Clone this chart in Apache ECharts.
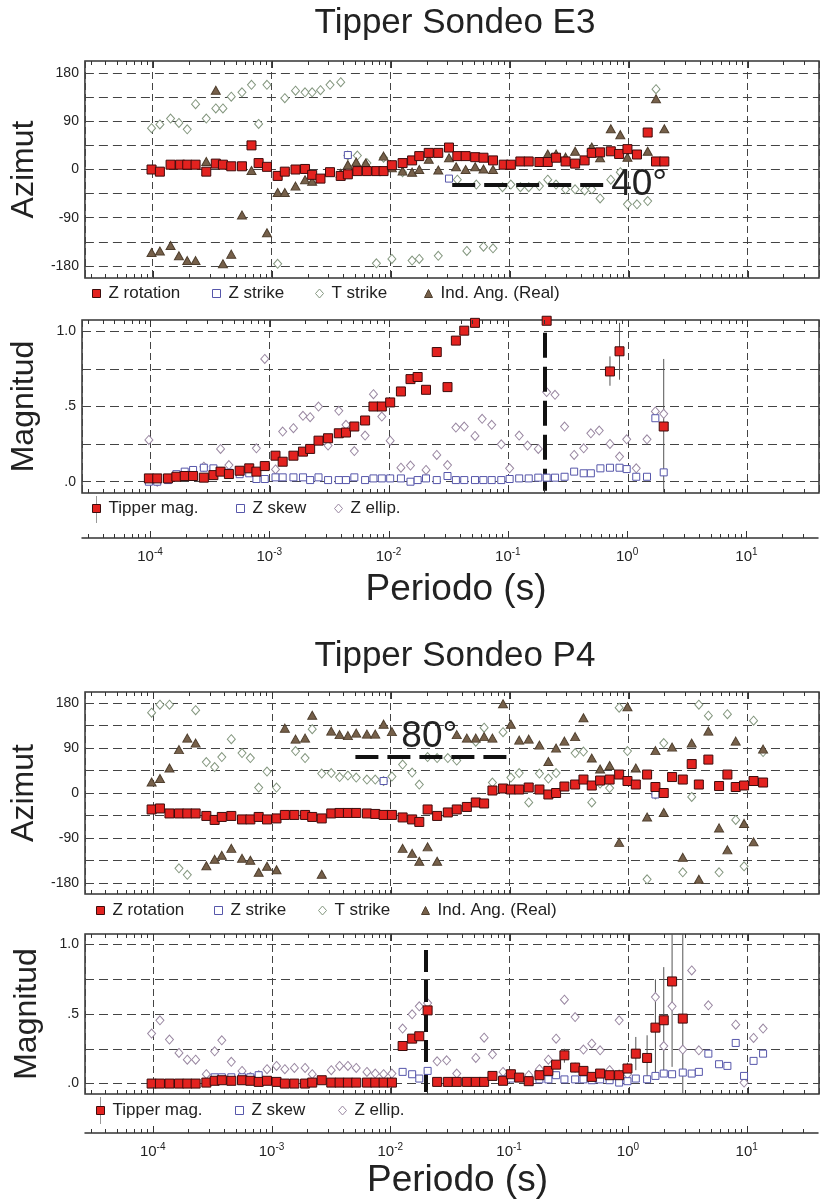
<!DOCTYPE html>
<html><head><meta charset="utf-8">
<script src="https://cdn.jsdelivr.net/npm/echarts@6/dist/echarts.min.js"></script>
<style>html,body{margin:0;padding:0;background:#fff}#c{width:821px;height:1201px}</style>
</head><body><div id="c"></div>
<script>
// ---------- DATA (x = log10 of period in s) ----------
// E3 – Azimut panel
const e3ZRotation = [[-4.01,0],[-3.94,-4],[-3.85,9],[-3.77,9],[-3.71,9],[-3.64,9],[-3.55,-4],[-3.47,11],[-3.41,9],[-3.34,6],[-3.25,6],[-3.17,45],[-3.11,12],[-3.04,5],[-2.95,-12],[-2.89,-4],[-2.80,0],[-2.72,1],[-2.66,-10],[-2.59,-17],[-2.51,-5],[-2.42,-12],[-2.36,-9],[-2.28,-3],[-2.20,-3],[-2.12,-3],[-2.06,-3],[-1.99,8],[-1.90,12],[-1.82,17],[-1.76,25],[-1.68,31],[-1.60,31],[-1.51,41],[-1.44,25],[-1.37,25],[-1.29,23],[-1.22,22],[-1.14,17],[-1.05,9],[-0.99,9],[-0.91,15],[-0.84,15],[-0.75,14],[-0.68,14],[-0.61,22],[-0.53,15],[-0.45,11],[-0.37,17],[-0.31,31],[-0.24,32],[-0.15,34],[-0.08,29],[-0.01,38],[0.07,28],[0.16,69],[0.23,15],[0.30,15]];
const e3ZStrike = [[-2.36,27],[-1.51,-17]];
const e3TStrike = [[-4.01,77],[-3.94,84],[-3.85,95],[-3.78,87],[-3.71,75],[-3.64,122],[-3.55,95],[-3.47,114],[-3.41,114],[-3.34,136],[-3.25,144],[-3.17,158],[-3.11,85],[-3.04,158],[-2.95,-176],[-2.89,133],[-2.80,147],[-2.72,144],[-2.66,144],[-2.59,148],[-2.51,158],[-2.42,163],[-2.36,26],[-2.28,26],[-2.20,12],[-2.12,-175],[-2.06,22],[-1.99,-167],[-1.90,-5],[-1.82,-170],[-1.76,-167],[-1.60,-161],[-1.44,-19],[-1.36,-152],[-1.28,-28],[-1.22,-144],[-1.14,-147],[-1.06,-33],[-0.99,-28],[-0.91,-33],[-0.84,-33],[-0.75,-31],[-0.68,-19],[-0.61,-28],[-0.53,-37],[-0.45,-37],[-0.37,-39],[-0.31,-37],[-0.24,-54],[-0.15,-19],[-0.07,-5],[-0.01,-65],[0.07,-65],[0.16,-59],[0.23,150]];
const e3IndAng = [[-4.01,-155],[-3.94,-152],[-3.85,-142],[-3.78,-161],[-3.71,-170],[-3.64,-170],[-3.55,15],[-3.47,148],[-3.41,-176],[-3.34,-158],[-3.25,-85],[-3.17,-2],[-3.04,-118],[-2.95,-43],[-2.89,-43],[-2.80,-31],[-2.72,-19],[-2.66,-22],[-2.42,-7],[-2.36,9],[-2.29,14],[-2.21,12],[-2.06,25],[-1.99,3],[-1.90,-3],[-1.82,-5],[-1.76,0],[-1.68,19],[-1.60,-1],[-1.51,22],[-1.45,5],[-1.37,0],[-1.29,5],[-1.22,1],[-1.14,0],[-0.68,29],[-0.61,29],[-0.53,23],[-0.45,34],[-0.31,42],[-0.24,22],[-0.15,76],[-0.07,65],[-0.01,23],[0.16,34],[0.23,132],[0.30,76]];
// E3 – Magnitud panel
const e3TipperMag = [[-4.01,0.022],[-3.94,0.022],[-3.85,0.022],[-3.78,0.033],[-3.71,0.038],[-3.64,0.038],[-3.55,0.027],[-3.47,0.044],[-3.41,0.067],[-3.34,0.051],[-3.25,0.073],[-3.17,0.089],[-3.11,0.067],[-3.04,0.104],[-2.95,0.173],[-2.89,0.133],[-2.80,0.173],[-2.72,0.2],[-2.66,0.218],[-2.59,0.273],[-2.51,0.289],[-2.42,0.322],[-2.36,0.327],[-2.29,0.367],[-2.20,0.407],[-2.13,0.5],[-2.06,0.5],[-1.99,0.527],[-1.90,0.6],[-1.82,0.682],[-1.76,0.696],[-1.69,0.611],[-1.60,0.862],[-1.51,0.629],[-1.44,0.938],[-1.37,1.004],[-1.28,1.056],[-0.68,1.07],[-0.15,0.733],[-0.07,0.867],[0.30,0.367]];
const e3TipperErr = [[-0.15,0.638,0.833],[-0.07,0.678,1.056],[0.30,-0.07,0.816]];
const e3ZSkew = [[-4.01,0.0],[-3.94,0.0],[-3.85,0.011],[-3.78,0.05],[-3.71,0.067],[-3.64,0.078],[-3.55,0.093],[-3.47,0.089],[-3.41,0.07],[-3.34,0.06],[-3.25,0.05],[-3.17,0.056],[-3.11,0.018],[-3.04,0.018],[-2.95,0.029],[-2.89,0.029],[-2.80,0.029],[-2.72,0.029],[-2.66,0.011],[-2.59,0.029],[-2.51,0.011],[-2.42,0.011],[-2.36,0.011],[-2.29,0.029],[-2.20,0.011],[-2.13,0.022],[-2.06,0.022],[-1.99,0.022],[-1.90,0.022],[-1.82,0.0],[-1.76,0.011],[-1.69,0.022],[-1.60,0.011],[-1.51,0.038],[-1.44,0.011],[-1.37,0.011],[-1.28,0.011],[-1.21,0.011],[-1.14,0.011],[-1.06,0.011],[-0.99,0.018],[-0.91,0.022],[-0.83,0.022],[-0.75,0.027],[-0.68,0.027],[-0.61,0.027],[-0.53,0.033],[-0.45,0.067],[-0.37,0.056],[-0.31,0.056],[-0.23,0.089],[-0.15,0.093],[-0.07,0.093],[-0.01,0.084],[0.07,0.033],[0.16,0.033],[0.23,0.422],[0.30,0.062]];
const e3ZEllip = [[-4.01,0.278],[-3.94,0.0],[-3.55,0.1],[-3.41,0.218],[-3.34,0.111],[-3.11,0.222],[-3.04,0.816],[-2.95,0.082],[-2.89,0.333],[-2.80,0.356],[-2.72,0.438],[-2.66,0.429],[-2.59,0.5],[-2.51,0.24],[-2.42,0.471],[-2.36,0.378],[-2.29,0.204],[-2.20,0.307],[-2.13,0.582],[-2.06,0.433],[-1.99,0.273],[-1.90,0.093],[-1.82,0.107],[-1.69,0.078],[-1.60,0.178],[-1.51,0.111],[-1.44,0.36],[-1.37,0.367],[-1.28,0.304],[-1.22,0.418],[-1.14,0.378],[-1.06,0.249],[-0.99,0.089],[-0.91,0.307],[-0.84,0.24],[-0.75,0.218],[-0.68,0.596],[-0.61,0.578],[-0.53,0.367],[-0.45,0.178],[-0.37,0.222],[-0.31,0.322],[-0.24,0.34],[-0.15,0.251],[-0.07,0.167],[-0.01,0.282],[0.07,0.089],[0.16,0.282],[0.23,0.467],[0.30,0.451]];
// P4 – Azimut panel
const p4ZRotation = [[-4.01,-33],[-3.94,-31],[-3.86,-41],[-3.78,-41],[-3.71,-41],[-3.64,-41],[-3.55,-46],[-3.48,-54],[-3.42,-48],[-3.34,-46],[-3.25,-53],[-3.18,-53],[-3.11,-48],[-3.04,-53],[-2.96,-51],[-2.89,-44],[-2.81,-44],[-2.72,-44],[-2.66,-48],[-2.58,-51],[-2.50,-41],[-2.43,-40],[-2.36,-40],[-2.29,-40],[-2.20,-41],[-2.13,-42],[-2.06,-44],[-1.99,-44],[-1.90,-49],[-1.82,-53],[-1.76,-58],[-1.69,-33],[-1.61,-46],[-1.52,-39],[-1.445,-33],[-1.36,-28],[-1.285,-19],[-1.215,-21],[-1.145,5],[-1.056,9],[-0.99,7],[-0.92,7],[-0.84,11],[-0.75,7],[-0.675,-3],[-0.61,0],[-0.54,13],[-0.45,17],[-0.38,27],[-0.31,15],[-0.24,25],[-0.16,27],[-0.08,37],[-0.01,24],[0.06,17],[0.155,37],[0.225,12],[0.295,0],[0.365,32],[0.455,27],[0.53,58],[0.59,17],[0.67,67],[0.76,14],[0.83,37],[0.90,12],[0.97,15],[1.05,24],[1.13,21]];
const p4ZStrike = [[-2.06,24],[0.225,-3]];
const p4TStrike = [[-4.01,161],[-3.94,177],[-3.86,177],[-3.78,-151],[-3.71,-164],[-3.64,166],[-3.55,62],[-3.48,52],[-3.42,72],[-3.34,108],[-3.25,80],[-3.18,70],[-3.11,11],[-3.04,43],[-2.96,11],[-2.80,84],[-2.72,70],[-2.66,128],[-2.58,39],[-2.50,40],[-2.43,32],[-2.36,35],[-2.29,31],[-2.20,27],[-2.13,27],[-2.06,24],[-1.99,33],[-1.90,57],[-1.82,41],[-1.76,17],[-1.69,72],[-1.61,70],[-1.52,70],[-1.445,65],[-1.285,103],[-1.215,131],[-1.145,21],[-1.056,122],[-0.99,31],[-0.92,40],[-0.84,-19],[-0.75,39],[-0.675,29],[-0.61,40],[-0.45,80],[-0.38,83],[-0.31,-19],[-0.24,19],[-0.16,10],[-0.08,171],[-0.01,84],[0.155,-173],[0.225,-3],[0.295,100],[0.455,-159],[0.53,-8],[0.59,177],[0.67,155],[0.76,-159],[0.83,158],[0.90,-54],[0.97,-147],[1.05,145],[1.13,82]];
const p4IndAng = [[-4.01,22],[-3.94,29],[-3.86,50],[-3.78,87],[-3.71,110],[-3.64,100],[-3.55,-146],[-3.48,-133],[-3.42,-125],[-3.34,-111],[-3.25,-131],[-3.18,-135],[-3.11,-159],[-3.04,-147],[-2.96,-154],[-2.89,130],[-2.80,108],[-2.72,110],[-2.66,156],[-2.58,-163],[-2.50,124],[-2.43,117],[-2.36,115],[-2.29,120],[-2.20,118],[-2.13,118],[-2.06,138],[-1.99,123],[-1.90,-111],[-1.82,-121],[-1.76,-137],[-1.69,-108],[-1.61,-137],[-1.445,117],[-1.36,110],[-1.285,110],[-1.215,113],[-1.145,110],[-1.056,179],[-0.99,138],[-0.92,106],[-0.84,108],[-0.75,96],[-0.675,63],[-0.61,90],[-0.54,104],[-0.45,113],[-0.38,151],[-0.31,70],[-0.24,48],[-0.16,55],[-0.08,-99],[-0.01,173],[0.06,50],[0.155,-48],[0.225,85],[0.295,-39],[0.365,92],[0.455,-129],[0.53,100],[0.59,-173],[0.67,124],[0.76,-70],[0.83,-114],[0.90,104],[0.97,-61],[1.05,-98],[1.13,88]];
// P4 – Magnitud panel
const p4TipperMag = [[-4.01,0],[-3.94,0],[-3.86,0],[-3.78,0],[-3.71,0],[-3.64,0],[-3.55,0.007],[-3.48,0.02],[-3.42,0.024],[-3.34,0.02],[-3.25,0.024],[-3.18,0.02],[-3.11,0.012],[-3.04,0.02],[-2.96,0.012],[-2.89,0],[-2.81,0],[-2.72,0],[-2.66,0.007],[-2.58,0.024],[-2.50,0.007],[-2.43,0.007],[-2.36,0.007],[-2.29,0.007],[-2.20,0.007],[-2.13,0.007],[-2.06,0.007],[-1.99,0.007],[-1.90,0.27],[-1.82,0.323],[-1.76,0.34],[-1.69,0.526],[-1.61,0.012],[-1.52,0.012],[-1.445,0.012],[-1.36,0.012],[-1.285,0.012],[-1.215,0.012],[-1.145,0.055],[-1.056,0.02],[-0.99,0.067],[-0.92,0.043],[-0.84,0.017],[-0.75,0.06],[-0.675,0.091],[-0.61,0.136],[-0.54,0.203],[-0.45,0.115],[-0.38,0.091],[-0.31,0.048],[-0.24,0.072],[-0.16,0.06],[-0.08,0.06],[-0.01,0.108],[0.06,0.215],[0.155,0.184],[0.225,0.402],[0.295,0.455],[0.365,0.734],[0.455,0.467]];
const p4TipperErr = [[-0.54,0.15,0.25],[-0.45,0.08,0.15],[-0.08,0.02,0.1],[-0.01,0.07,0.15],[0.06,0.096,0.335],[0.155,0.024,0.347],[0.225,0.048,0.749],[0.295,0.072,0.837],[0.365,0.12,1.075],[0.455,-0.07,1.075]];
const p4ZSkew = [[-3.48,0.045],[-3.42,0.045],[-3.34,0.045],[-3.25,0.045],[-3.18,0.045],[-3.11,0.06],[-1.90,0.084],[-1.82,0.067],[-1.76,0.036],[-1.69,0.091],[-1.056,0.03],[-0.99,0.036],[-0.84,0.024],[-0.75,0.03],[-0.675,0.03],[-0.61,0.06],[-0.54,0.03],[-0.45,0.03],[-0.38,0.03],[-0.31,0.024],[-0.24,0.03],[-0.16,0.024],[-0.08,0.007],[-0.01,0.017],[0.06,0.036],[0.155,0.031],[0.225,0.055],[0.295,0.072],[0.365,0.067],[0.455,0.079],[0.53,0.072],[0.59,0.084],[0.67,0.215],[0.76,0.139],[0.83,0.127],[0.90,0.292],[0.97,0.055],[1.05,0.163],[1.13,0.215]];
const p4ZEllip = [[-4.01,0.359],[-3.94,0.455],[-3.86,0.316],[-3.78,0.22],[-3.71,0.172],[-3.64,0.172],[-3.55,0.067],[-3.48,0.232],[-3.42,0.311],[-3.34,0.156],[-3.25,0.091],[-3.18,0.048],[-3.11,0.06],[-3.04,0.103],[-2.96,0.127],[-2.89,0.103],[-2.81,0.112],[-2.72,0.112],[-2.66,0.067],[-2.50,0.096],[-2.43,0.127],[-2.36,0.127],[-2.29,0.112],[-2.20,0.084],[-2.13,0.072],[-2.06,0.067],[-1.99,0.072],[-1.90,0.395],[-1.82,0.498],[-1.76,0.555],[-1.69,0.579],[-1.61,0.16],[-1.53,0.167],[-1.445,0.072],[-1.285,0.184],[-1.215,0.33],[-1.145,0.21],[-1.056,0.084],[-0.84,0.06],[-0.75,0.103],[-0.675,0.172],[-0.61,0.323],[-0.54,0.603],[-0.45,0.478],[-0.38,0.244],[-0.31,0.287],[-0.24,0.239],[-0.16,0.096],[-0.08,0.455],[-0.01,0.067],[0.225,0.622],[0.295,0.27],[0.365,0.555],[0.455,0.244],[0.53,0.813],[0.59,0.239],[0.67,0.562],[0.90,0.423],[0.97,0.007],[1.05,0.328],[1.13,0.395]];
// annotations (log10 T, value)
const e3StrikeLine = [[-1.483,-28],[-0.197,-28]];
const e3MagLine = [[-0.692,0.99],[-0.692,-0.06]];
const p4StrikeLine = [[-2.297,72.5],[-1.0,72.5]];
const p4StrikeLabel = [-1.676,112];
const p4MagLine = [[-1.703,0.96],[-1.703,-0.075]];
// tick values / labels
const azGridValues = [-180,-135,-90,-45,0,45,90,135,180];
const azLabelValues = [-180,-90,0,90,180];
const magGridValues = [0,0.25,0.5,0.75,1];
const magLabelValues = [0,0.5,1];
const xExtentExp = [-4.57, 1.6];

// ---------- CHART ----------
const FONT = "'Liberation Sans', Arial, sans-serif";
const xMin = Math.pow(10, xExtentExp[0]), xMax = Math.pow(10, xExtentExp[1]);
const toXY = a => a.map(p => [Math.pow(10, p[0]), p[1]]);

const GRIDS = [
  {left:82, top:61, width:737, height:217},
  {left:82, top:320, width:737, height:173},
  {left:82, top:528, width:737, height:10},
  {left:85, top:692, width:734, height:202},
  {left:85, top:934, width:734, height:160},
  {left:85, top:1123, width:734, height:10}
];
const ST = {
  zrot:   {symbol:'rect', size:9, fill:'#e3221f', stroke:'#3d0c0c', z:6},
  zstr:   {symbol:'rect', size:7, fill:'#ffffff', stroke:'#5656aa', z:5},
  tstr:   {symbol:'diamond', size:[8,9], fill:'#ffffff', stroke:'#84977f', z:3},
  ind:    {symbol:'triangle', size:[9,8], fill:'#76604a', stroke:'#4f3f2e', z:4},
  ellip:  {symbol:'diamond', size:[8,9], fill:'#ffffff', stroke:'#9a88a2', z:3}
};
function scatter(name, gi, data, st, extra) {
  return Object.assign({type:'scatter', name, xAxisIndex:gi, yAxisIndex:gi, data:toXY(data),
    symbol:st.symbol, symbolSize:st.size, z:st.z, animation:false, silent:true,
    itemStyle:{color:st.fill, borderColor:st.stroke, borderWidth:1, opacity:1}}, extra||{});
}
// axis tick marks (major at decades, minor 2..9)
const tickData = [];
for (let d = -5; d <= 1; d++) for (let m = 1; m <= 9; m++) {
  const e = Math.log10(m * Math.pow(10, d));
  if (e > xExtentExp[0] + 0.002 && e < xExtentExp[1] - 0.002) tickData.push([m * Math.pow(10, d), 0, m === 1 ? 1 : 0]);
}
function tickSeries(gi, both) {
  return {type:'custom', xAxisIndex:gi, yAxisIndex:gi, data:tickData, silent:true, z:7, animation:false,
    renderItem(params, api) {
      const cs = params.coordSys;
      const x = Math.round(api.coord([api.value(0), 0])[0]) + 0.5;
      const len = api.value(2) ? 7 : 4;
      const b = cs.y + cs.height;
      const ch = [{type:'line', shape:{x1:x, y1:b, x2:x, y2:b - len}, style:{stroke:'#333', lineWidth:1}}];
      if (both) ch.push({type:'line', shape:{x1:x, y1:cs.y, x2:x, y2:cs.y + len}, style:{stroke:'#333', lineWidth:1}});
      return {type:'group', children:ch};
    }};
}
function errSeries(gi, data) {
  return {type:'custom', xAxisIndex:gi, yAxisIndex:gi, data:toXY(data).map((p, i) => [p[0], data[i][1], data[i][2]]),
    silent:true, z:2, animation:false,
    renderItem(params, api) {
      const p1 = api.coord([api.value(0), api.value(1)]);
      const p2 = api.coord([api.value(0), api.value(2)]);
      return {type:'line', shape:{x1:p1[0], y1:p1[1], x2:p2[0], y2:p2[1]}, style:{stroke:'#555', lineWidth:1}};
    }};
}
function dashLine(pts, dash) {
  return {silent:true, symbol:['none','none'], animation:false,
    lineStyle:{color:'#111', width:4, type:dash, opacity:1},
    label:{show:false}, emphasis:{disabled:true},
    data:[[{coord:[Math.pow(10, pts[0][0]), pts[0][1]]}, {coord:[Math.pow(10, pts[1][0]), pts[1][1]]}]]};
}

const splitX = {show:true, lineStyle:{color:'#444', width:1, type:[7,4]}};
const splitY = {show:true, lineStyle:{color:'#444', width:1, type:[9,5]}};
const xAxes = GRIDS.map((g, i) => {
  const isAxis = (i === 2 || i === 5);
  return {type:'log', logBase:10, gridIndex:i, min:xMin, max:xMax,
    axisLine:{show:isAxis, lineStyle:{color:'#333', width:1.5}},
    axisTick:{show:false}, splitLine: isAxis ? {show:false} : splitX,
    axisLabel: isAxis ? {show:true, margin:9, color:'#222', fontFamily:FONT,
      formatter(v) { const e = Math.log10(v); const r = Math.round(e);
        return Math.abs(e - r) < 1e-6 ? '{b|10}{s|' + r + '}' : ''; },
      rich:{b:{fontSize:15, lineHeight:20, fontFamily:FONT, color:'#222'},
            s:{fontSize:10, lineHeight:11, verticalAlign:'top', fontFamily:FONT, color:'#222'}}} : {show:false},
    name: isAxis ? 'Periodo (s)' : '', nameLocation:'middle', nameGap: i === 2 ? 33 : 29,
    nameTextStyle:{fontSize:37, color:'#222', fontFamily:FONT, padding:[0,0,0,12]}};
});
function yAz(gi) {
  return {type:'value', gridIndex:gi, min:-202.5, max:202.5,
    axisLine:{show:false}, axisTick:{show:false, customValues:azGridValues}, splitLine:splitY,
    axisLabel:{customValues:azLabelValues, fontSize:14, color:'#222', margin:6, fontFamily:FONT},
    name:'Azimut', nameLocation:'middle', nameRotate:90, nameGap:42,
    nameTextStyle:{fontSize:32, color:'#222', fontFamily:FONT}};
}
function yMag(gi) {
  return {type:'value', gridIndex:gi, min:-0.075, max:1.075,
    axisLine:{show:false}, axisTick:{show:false, customValues:magGridValues}, splitLine:splitY,
    axisLabel:{customValues:magLabelValues, fontSize:14, color:'#222', margin:6, fontFamily:FONT,
      formatter: v => v >= 1 ? '1.0' : (v > 0.25 ? '.5' : '.0')},
    name:'Magnitud', nameLocation:'middle', nameRotate:90, nameGap:42,
    nameTextStyle:{fontSize:32, color:'#222', fontFamily:FONT}};
}
const yAxes = [yAz(0), yMag(1), {type:'value', gridIndex:2, min:0, max:1, show:false},
               yAz(3), yMag(4), {type:'value', gridIndex:5, min:0, max:1, show:false}];

function leg(name, left, cy, st, icon, w, h) {
  return {data:[{name, icon, itemStyle:{color:st.fill, borderColor:st.stroke, borderWidth:1}}],
    left, top:cy - 8, itemWidth:w || 8, itemHeight:h || 8, padding:0, selectedMode:false,
    textStyle:{fontSize:17, color:'#222', fontFamily:FONT, padding:[0,0,0,3]}};
}
const legends = [
  leg('Z rotation', 92, 293, ST.zrot, 'rect'),
  leg('Z strike', 212, 293, ST.zstr, 'rect'),
  leg('T strike', 315, 293, ST.tstr, 'diamond', 8, 9),
  leg('Ind. Ang. (Real)', 424, 293, ST.ind, 'triangle', 8, 8),
  leg('Tipper mag.', 92, 508, ST.zrot, 'rect'),
  leg('Z skew', 236, 508, ST.zstr, 'rect'),
  leg('Z ellip.', 334, 508, ST.ellip, 'diamond', 8, 9),
  leg('Z rotation', 96, 910, ST.zrot, 'rect'),
  leg('Z strike', 214, 910, ST.zstr, 'rect'),
  leg('T strike', 318, 910, ST.tstr, 'diamond', 8, 9),
  leg('Ind. Ang. (Real)', 421, 910, ST.ind, 'triangle', 8, 8),
  leg('Tipper mag.', 96, 1110, ST.zrot, 'rect'),
  leg('Z skew', 235, 1110, ST.zstr, 'rect'),
  leg('Z ellip.', 338, 1110, ST.ellip, 'diamond', 8, 9)
];

const e3Strike = dashLine(e3StrikeLine, [23,9]);
e3Strike.label = {show:true, position:'end', formatter:'40°', fontSize:37, color:'#222', fontFamily:FONT, distance:6};
const p4Strike = dashLine(p4StrikeLine, [23,9]);

const series = [
  // E3 azimut
  scatter('T strike', 0, e3TStrike, ST.tstr),
  scatter('Z strike', 0, e3ZStrike, ST.zstr),
  scatter('Ind. Ang. (Real)', 0, e3IndAng, ST.ind),
  scatter('Z rotation', 0, e3ZRotation, ST.zrot, {markLine:e3Strike}),
  tickSeries(0, true),
  // E3 magnitud
  errSeries(1, e3TipperErr),
  scatter('Z ellip.', 1, e3ZEllip, ST.ellip),
  scatter('Z skew', 1, e3ZSkew, ST.zstr),
  scatter('Tipper mag.', 1, e3TipperMag, ST.zrot, {markLine:dashLine(e3MagLine, [25,9])}),
  tickSeries(1, true),
  tickSeries(2, false),
  // P4 azimut
  scatter('T strike', 3, p4TStrike, ST.tstr),
  scatter('Z strike', 3, p4ZStrike, ST.zstr),
  scatter('Ind. Ang. (Real)', 3, p4IndAng, ST.ind),
  scatter('Z rotation', 3, p4ZRotation, ST.zrot, {markLine:p4Strike,
    markPoint:{silent:true, animation:false, symbol:'circle', symbolSize:1, itemStyle:{color:'rgba(0,0,0,0)'},
      label:{show:true, position:'inside', formatter:'80°', fontSize:37, color:'#222', fontFamily:FONT},
      data:[{coord:[Math.pow(10, p4StrikeLabel[0]), p4StrikeLabel[1]]}]}}),
  tickSeries(3, true),
  // P4 magnitud
  errSeries(4, p4TipperErr),
  scatter('Z ellip.', 4, p4ZEllip, ST.ellip),
  scatter('Z skew', 4, p4ZSkew, ST.zstr),
  scatter('Tipper mag.', 4, p4TipperMag, ST.zrot, {markLine:dashLine(p4MagLine, [22,8])}),
  tickSeries(4, true),
  tickSeries(5, false)
];

const grids = GRIDS.map((g, i) => Object.assign({}, g, {containLabel:false,
  show: !(i === 2 || i === 5), borderColor:'#333', borderWidth:1.5, backgroundColor:'transparent'}));

const titleStyle = t => ({text:t, fontSize:35, fontFamily:FONT, fill:'#222',
  align:'center', verticalAlign:'middle', textAlign:'center', textVerticalAlign:'middle'});
const option = {
  backgroundColor:'#ffffff',
  animation:false,
  textStyle:{fontFamily:FONT},
  grid:grids, xAxis:xAxes, yAxis:yAxes, legend:legends, series,
  graphic:[
    {type:'text', x:455, y:23, style:titleStyle('Tipper Sondeo E3')},
    {type:'text', x:455, y:656, style:titleStyle('Tipper Sondeo P4')},
    {type:'line', shape:{x1:96.5, y1:496, x2:96.5, y2:523}, style:{stroke:'#999', lineWidth:1}, z:-1},
    {type:'line', shape:{x1:100.5, y1:1097, x2:100.5, y2:1124}, style:{stroke:'#999', lineWidth:1}, z:-1}
  ]
};
const chart = echarts.init(document.getElementById('c'), null, {renderer:'canvas'});
chart.setOption(option);
</script></body></html>
